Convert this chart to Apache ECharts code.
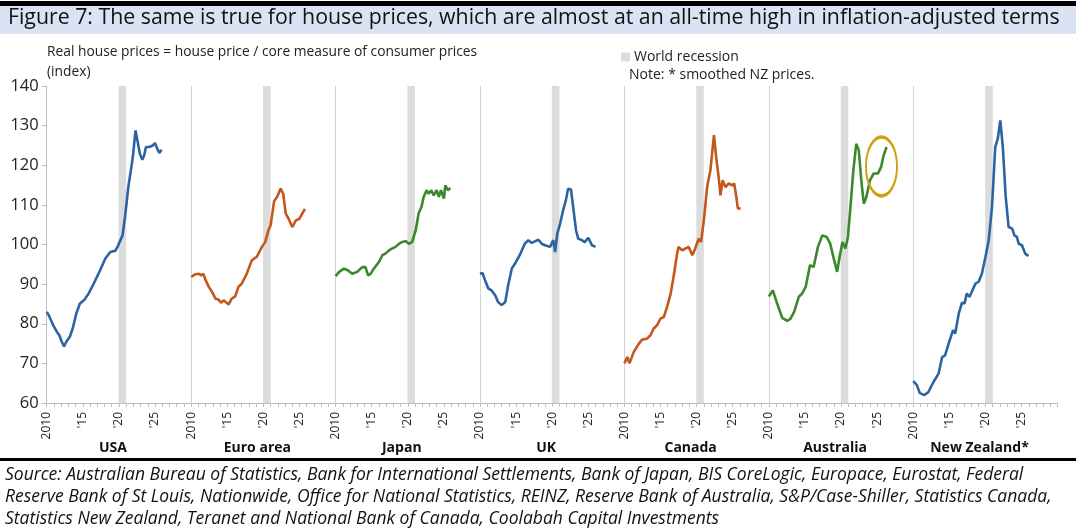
<!DOCTYPE html>
<html><head><meta charset="utf-8">
<script src="https://cdn.jsdelivr.net/npm/echarts@6/dist/echarts.min.js"></script>
<style>html,body{margin:0;padding:0;background:#fff}#c{width:1076px;height:532px}</style>
</head><body><div id="c"></div>
<script>
// ---- Data (year, real house price index) ----
const panels = ['USA','Euro area','Japan','UK','Canada','Australia','New Zealand*'];
const yTicks = [60,70,80,90,100,110,120,130,140];
const recession = [2019.95, 2021.0];

const usa = [[2010.0,83.0],[2010.3,82.1],[2010.5,82.0],[2010.9,79.6],[2011.4,78.0],[2011.75,77.1],[2012.1,75.4],[2012.4,74.3],[2012.7,75.4],[2013.2,76.7],[2013.6,78.8],[2014.1,82.6],[2014.6,85.1],[2015.2,86.0],[2015.8,87.6],[2016.5,90.1],[2017.4,93.5],[2018.1,96.4],[2018.8,98.1],[2019.5,98.4],[2019.9,99.8],[2020.5,102.3],[2020.85,107.0],[2021.3,114.5],[2021.8,120.4],[2022.0,123.3],[2022.3,128.8],[2022.6,125.9],[2022.9,122.9],[2023.25,121.4],[2023.5,122.5],[2023.75,124.6],[2024.2,124.6],[2024.7,125.0],[2025.0,125.6],[2025.3,124.2],[2025.6,123.1],[2025.9,123.9]];
const euro = [[2010.0,91.8],[2010.25,91.4],[2010.6,92.5],[2011.1,92.6],[2011.4,92.2],[2011.7,92.6],[2012.0,91.0],[2012.45,89.3],[2012.9,88.0],[2013.4,86.3],[2013.8,86.1],[2014.15,85.3],[2014.5,85.9],[2014.9,85.3],[2015.2,84.9],[2015.6,86.3],[2016.1,86.9],[2016.55,89.3],[2017.0,90.1],[2017.7,92.6],[2018.4,96.0],[2019.1,96.9],[2019.8,99.4],[2020.25,100.6],[2020.7,103.6],[2021.0,104.8],[2021.5,111.0],[2021.9,112.0],[2022.4,114.1],[2022.75,112.8],[2023.1,107.8],[2023.5,106.5],[2024.0,104.4],[2024.5,106.1],[2025.0,106.5],[2025.75,109.0]];
const japan = [[2010.0,92.0],[2010.5,93.1],[2011.15,93.9],[2011.7,93.5],[2012.3,92.6],[2013.0,93.1],[2013.7,94.3],[2014.15,94.3],[2014.5,92.2],[2014.85,92.6],[2015.3,93.9],[2016.0,95.6],[2016.5,97.3],[2016.9,97.7],[2017.4,98.5],[2017.85,99.0],[2018.3,99.4],[2018.8,100.2],[2019.2,100.6],[2019.7,100.9],[2020.15,100.2],[2020.6,100.6],[2021.1,103.6],[2021.5,107.8],[2021.9,109.5],[2022.2,112.0],[2022.6,113.7],[2022.9,112.8],[2023.25,113.7],[2023.6,112.4],[2024.0,113.7],[2024.3,112.0],[2024.6,113.7],[2025.0,111.6],[2025.2,114.9],[2025.55,113.7],[2025.9,114.3]];
const uk = [[2010.0,92.6],[2010.35,92.8],[2010.7,91.0],[2011.15,88.9],[2011.6,88.4],[2012.1,87.2],[2012.5,85.5],[2013.0,84.7],[2013.5,85.5],[2013.9,89.7],[2014.4,93.9],[2014.85,95.2],[2015.5,97.3],[2016.2,100.2],[2016.7,101.1],[2017.15,100.4],[2017.6,100.8],[2018.1,101.2],[2018.55,100.2],[2019.0,99.8],[2019.7,99.4],[2020.15,101.1],[2020.4,98.1],[2020.7,102.7],[2021.1,105.3],[2021.5,108.6],[2021.9,111.2],[2022.2,114.1],[2022.6,113.9],[2022.9,109.5],[2023.3,103.6],[2023.6,101.5],[2024.1,101.1],[2024.5,100.6],[2025.0,101.7],[2025.5,99.8],[2026.0,99.4]];
const canada = [[2010.0,70.0],[2010.4,71.6],[2010.7,70.0],[2011.3,72.9],[2012.0,75.0],[2012.45,76.0],[2013.1,76.2],[2013.6,77.1],[2014.05,78.8],[2014.5,79.6],[2015.0,81.3],[2015.45,81.7],[2015.9,84.2],[2016.4,87.6],[2016.8,91.8],[2017.3,97.7],[2017.5,99.4],[2018.0,98.5],[2018.45,99.0],[2018.9,99.4],[2019.4,97.3],[2019.8,99.0],[2020.3,101.5],[2020.6,100.6],[2021.0,106.1],[2021.45,114.5],[2021.9,118.7],[2022.4,127.6],[2022.7,122.1],[2023.1,116.2],[2023.3,112.4],[2023.6,116.2],[2024.0,114.5],[2024.45,115.4],[2024.9,114.9],[2025.2,115.4],[2025.5,112.0],[2025.7,109.1],[2026.1,109.1]];
const australia = [[2010.0,86.9],[2010.55,88.4],[2011.15,85.1],[2011.85,81.5],[2012.55,80.7],[2013.0,81.3],[2013.5,83.0],[2014.15,86.8],[2014.6,87.6],[2015.1,89.3],[2015.7,94.8],[2016.2,94.3],[2016.8,99.4],[2017.4,102.3],[2018.0,101.9],[2018.5,100.2],[2019.1,95.6],[2019.45,93.1],[2019.8,96.9],[2020.2,100.6],[2020.6,99.0],[2020.95,101.9],[2021.3,109.5],[2021.7,118.7],[2022.1,125.4],[2022.45,123.8],[2022.8,116.2],[2023.15,110.3],[2023.5,112.0],[2024.0,116.2],[2024.5,117.9],[2025.1,117.9],[2025.55,119.6],[2025.9,122.5],[2026.3,124.6]];
const newZealand = [[2010.0,65.5],[2010.5,64.5],[2010.9,62.5],[2011.55,62.0],[2012.1,62.8],[2012.8,65.3],[2013.5,67.4],[2014.0,71.6],[2014.4,72.0],[2014.9,75.0],[2015.5,78.4],[2015.8,77.5],[2016.3,82.6],[2016.75,85.3],[2017.1,85.1],[2017.4,87.6],[2017.8,86.8],[2018.3,88.9],[2018.6,90.1],[2019.05,90.6],[2019.5,92.6],[2020.0,96.9],[2020.45,101.1],[2020.9,109.5],[2021.35,124.6],[2021.7,126.7],[2022.05,131.3],[2022.4,124.6],[2022.8,112.0],[2023.2,104.4],[2023.7,104.0],[2024.0,102.3],[2024.35,101.9],[2024.6,100.2],[2025.05,99.8],[2025.5,97.7],[2025.95,97.1]];
const highlight = [2025.6, 119.7];

const seriesData = [usa, euro, japan, uk, canada, australia, newZealand];
const BLUE = '#2c64a2', ORANGE = '#c4581b', GREEN = '#3b892c';
const colors = [BLUE, ORANGE, GREEN, BLUE, ORANGE, GREEN, BLUE];

// ---- Layout ----
const gLeft0 = 46.7, gPw = 144.43, gTop = 86, gHeight = 317;
const FONT = 'Open Sans';
const grids = [], xAxes = [], yAxes = [], series = [];
panels.forEach((name, k) => {
  grids.push({left: gLeft0 + gPw*k, top: gTop, width: gPw, height: gHeight});
  xAxes.push({
    type: 'value', gridIndex: k, min: 2010, max: 2030, interval: 5,
    name: name, nameLocation: 'middle', nameGap: 38, nameMoveOverlap: false,
    nameTextStyle: {fontFamily: FONT, fontWeight: 'bold', fontSize: 14, color: '#111', padding: [0, 12, 0, 0]},
    axisLine: {show: true, lineStyle: {color: '#bfbfbf', width: 1}},
    axisTick: {show: true, length: 4, lineStyle: {color: '#bfbfbf'}},
    minorTick: {show: true, splitNumber: 5, length: 4, lineStyle: {color: '#bfbfbf'}},
    splitLine: {show: false},
    axisLabel: {
      rotate: 90, fontFamily: FONT, fontSize: 12, color: '#222', margin: 9,
      showMaxLabel: false,
      formatter: v => v === 2010 ? '2010' : (v >= 2030 ? '' : "'" + String(v).slice(2))
    }
  });
  yAxes.push({
    type: 'value', gridIndex: k, min: 60, max: 140, interval: 10,
    axisLine: {show: true, lineStyle: {color: k === 0 ? '#bfbfbf' : '#d4d4d4', width: 1}},
    axisTick: {show: k === 0, length: 5, lineStyle: {color: '#bfbfbf'}},
    axisLabel: {show: k === 0, fontFamily: FONT, fontSize: 16.5, color: '#222', margin: 8},
    splitLine: {show: false}
  });
  const s = {
    type: 'line', name: name, xAxisIndex: k, yAxisIndex: k,
    data: seriesData[k], showSymbol: false, smooth: false,
    lineStyle: {color: colors[k], width: 2.6}, itemStyle: {color: colors[k]},
    z: 3,
    markArea: {
      silent: true,
      itemStyle: {color: '#dcdcdc'},
      data: [[{xAxis: recession[0]}, {xAxis: recession[1]}]]
    }
  };
  if (k === 5) {
    s.markPoint = {
      silent: true,
      symbol: 'circle',
      symbolSize: [31, 59],
      label: {show: false},
      itemStyle: {color: 'rgba(0,0,0,0)', borderColor: '#d29f0c', borderWidth: 2.6},
      data: [{coord: highlight}]
    };
  }
  series.push(s);
});
series.push({type: 'line', name: 'World recession', xAxisIndex: 0, yAxisIndex: 0, data: [],
  itemStyle: {color: '#dcdcdc'}, lineStyle: {color: '#dcdcdc'}});

const sourceLines = [
  'Source: Australian Bureau of Statistics, Bank for International Settlements, Bank of Japan, BIS CoreLogic, Europace, Eurostat, Federal',
  'Reserve Bank of St Louis, Nationwide, Office for National Statistics, REINZ, Reserve Bank of Australia, S&P/Case-Shiller, Statistics Canada,',
  'Statistics New Zealand, Teranet and National Bank of Canada, Coolabah Capital Investments'
];

const chart = echarts.init(document.getElementById('c'), null, {renderer: 'canvas'});
chart.setOption({
  animation: false,
  backgroundColor: '#fff',
  grid: grids, xAxis: xAxes, yAxis: yAxes, series: series,
  legend: {
    data: ['World recession'], left: 616, top: 45, icon: 'rect',
    itemWidth: 9, itemHeight: 9, itemGap: 4,
    textStyle: {fontFamily: FONT, fontSize: 14, color: '#222', padding: [0,0,0,-1]}
  },
  graphic: [
    {type: 'rect', left: 0, top: 1, shape: {width: 1076, height: 5}, style: {fill: '#000'}},
    {type: 'rect', left: 0, top: 6, shape: {width: 1076, height: 28}, style: {fill: '#dae3f3'}},
    {type: 'text', left: 8, top: 7, style: {text: 'Figure 7: The same is true for house prices, which are almost at an all-time high in inflation-adjusted terms', fontFamily: FONT, fontSize: 21.3, fill: '#111'}},
    {type: 'text', left: 47, top: 42, style: {text: 'Real house prices = house price / core measure of consumer prices\n(index)', fontFamily: FONT, fontSize: 13.8, lineHeight: 20, fill: '#222'}},
    {type: 'text', left: 629, top: 68, style: {text: 'Note: * smoothed NZ prices.', fontFamily: FONT, fontSize: 14, fill: '#222'}},
    {type: 'rect', left: 0, top: 458, shape: {width: 1076, height: 3}, style: {fill: '#000'}},
    {type: 'text', left: 5, top: 464, style: {text: sourceLines.join('\n'), fontFamily: FONT, fontStyle: 'italic', fontSize: 17.5, lineHeight: 22, fill: '#111'}}
  ]
});
</script></body></html>
